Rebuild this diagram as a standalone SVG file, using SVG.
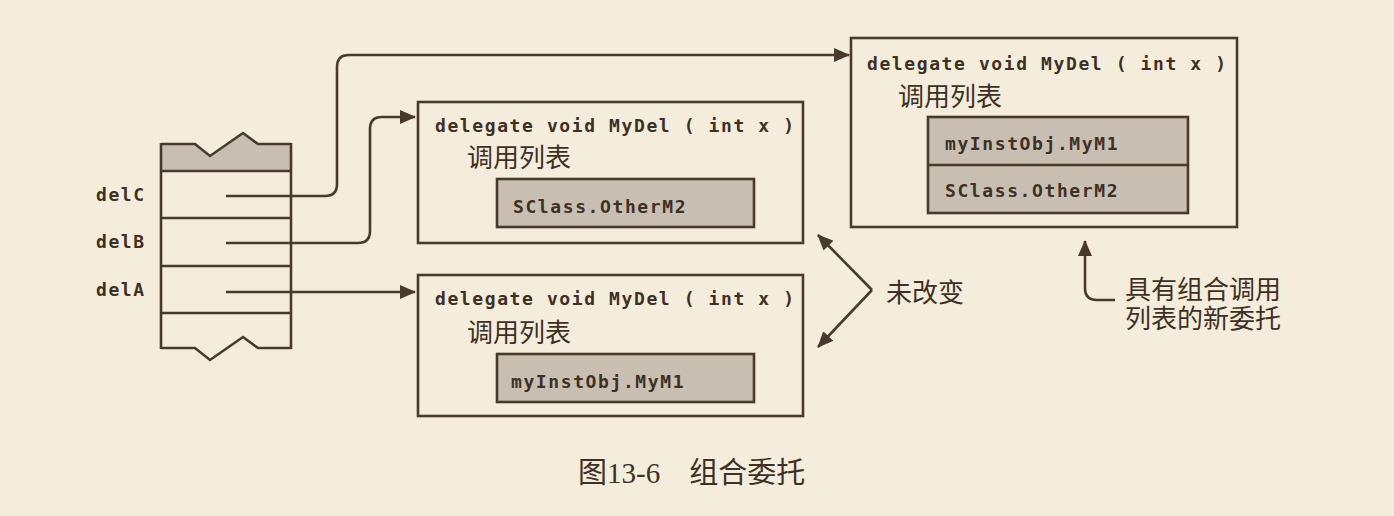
<svg xmlns="http://www.w3.org/2000/svg" width="1394" height="516" viewBox="0 0 1394 516">
<style>
.bg{fill:#f4eddb}
.ln{fill:none;stroke:#4a3a2e;stroke-width:2.6}
.box{fill:none;stroke:#4a3a2e;stroke-width:2.6}
.ibox{fill:#c8beb1;stroke:#4a3a2e;stroke-width:2.6}
.code{font-family:"DejaVu Sans Mono","Liberation Mono",monospace;font-size:18px;letter-spacing:1.6px;fill:#3f3026;font-weight:bold}
.cjk{font-family:"Noto Sans CJK SC","Noto Sans",sans-serif;font-size:26px;fill:#3f3026}
.cap{font-family:"Liberation Serif","Noto Sans CJK SC",serif;font-size:29px;fill:#3f3026}
</style>
<defs>
<marker id="ah" markerUnits="userSpaceOnUse" markerWidth="16" markerHeight="14" refX="15" refY="7" orient="auto">
<path d="M0,0 L16,7 L0,14 Z" fill="#4a3a2e"/>
</marker>
</defs>
<rect class="bg" x="0" y="0" width="1394" height="516"/>

<g id="stack">
<path d="M161,144 L195,144 L210,156 L243,133 L258,144 L291,144 L291,171 L161,171 Z" fill="#c8beb1" stroke="none"/>
<path class="ln" d="M161,144 L195,144 L210,156 L243,133 L258,144 L291,144"/>
<path class="ln" d="M161,348 L195,348 L210,360 L243,337 L258,348 L291,348"/>
<line class="ln" x1="161" y1="143" x2="161" y2="349"/>
<line class="ln" x1="291" y1="143" x2="291" y2="349"/>
<line class="ln" x1="161" y1="171" x2="291" y2="171"/>
<line class="ln" x1="161" y1="218" x2="291" y2="218"/>
<line class="ln" x1="161" y1="266" x2="291" y2="266"/>
<line class="ln" x1="161" y1="313" x2="291" y2="313"/>
<text class="code" x="96" y="201">delC</text>
<text class="code" x="96" y="248">delB</text>
<text class="code" x="96" y="296">delA</text>
</g>

<g id="delB-obj">
<rect class="box" x="418" y="102" width="385" height="141"/>
<text class="code" x="435" y="132">delegate void MyDel ( int x )</text>
<text class="cjk" x="467" y="167">调用列表</text>
<rect class="ibox" x="497" y="179" width="257" height="48"/>
<text class="code" x="513" y="213">SClass.OtherM2</text>
</g>

<g id="delA-obj">
<rect class="box" x="418" y="275" width="385" height="141"/>
<text class="code" x="435" y="305">delegate void MyDel ( int x )</text>
<text class="cjk" x="467" y="342">调用列表</text>
<rect class="ibox" x="497" y="354" width="257" height="48"/>
<text class="code" x="511" y="388">myInstObj.MyM1</text>
</g>

<g id="delC-obj">
<rect class="box" x="851" y="38" width="386" height="189"/>
<text class="code" x="867" y="70">delegate void MyDel ( int x )</text>
<text class="cjk" x="898" y="106">调用列表</text>
<rect class="ibox" x="928" y="117" width="260" height="96"/>
<line class="ln" x1="928" y1="165" x2="1188" y2="165"/>
<text class="code" x="945" y="150">myInstObj.MyM1</text>
<text class="code" x="945" y="197">SClass.OtherM2</text>
</g>

<g id="label-unchanged">
<text class="cjk" x="886" y="302">未改变</text>
</g>

<g id="label-new">
<text class="cjk" x="1125" y="299"><tspan x="1125" y="299">具有组合调用</tspan><tspan x="1125" y="328">列表的新委托</tspan></text>
</g>

<g id="connectors">
<path class="ln" marker-end="url(#ah)" d="M226,196 H325 Q337,196 337,184 V67 Q337,55 349,55 H849"/>
<path class="ln" marker-end="url(#ah)" d="M226,243 H358 Q370,243 370,231 V129 Q370,117 382,117 H415"/>
<path class="ln" marker-end="url(#ah)" d="M226,292 H415"/>
<path class="ln" marker-end="url(#ah)" d="M872,290 L818,235"/>
<path class="ln" marker-end="url(#ah)" d="M872,290 L818,347"/>
<path class="ln" marker-end="url(#ah)" d="M1115,300 H1097 Q1085,300 1085,288 V241"/>
</g>

<text class="cap" x="578" y="483">图13-6　组合委托</text>
</svg>
